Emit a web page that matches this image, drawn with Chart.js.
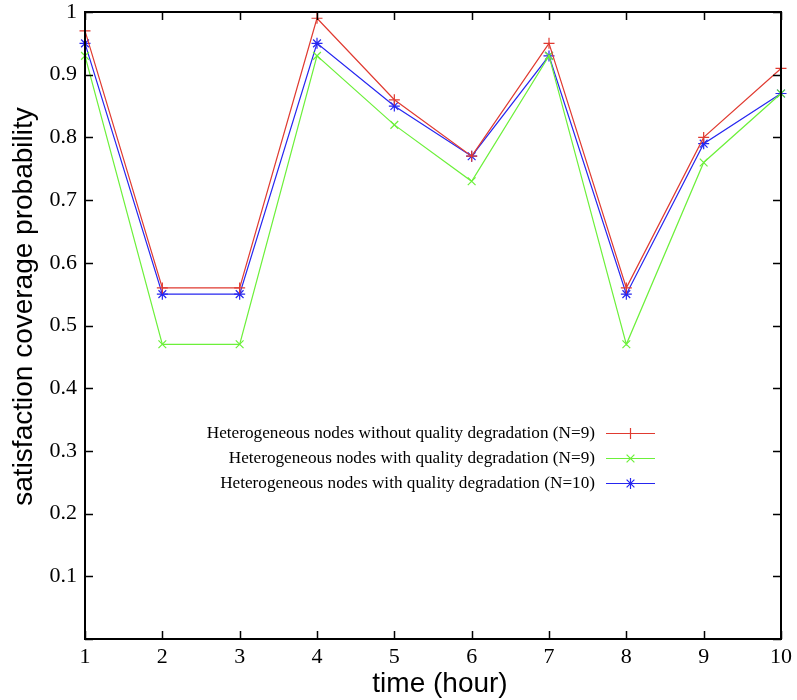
<!DOCTYPE html>
<html><head><meta charset="utf-8">
<script src="https://cdn.jsdelivr.net/npm/chart.js@4.4.1/dist/chart.umd.min.js"></script>
<style>html,body{margin:0;padding:0;background:#fff}#wrap{width:797px;height:700px;position:relative}</style>
</head><body><div id="wrap"><canvas id="c"></canvas></div>
<script>
const hours = [1, 2, 3, 4, 5, 6, 7, 8, 9, 10];
const withoutDegradationN9 = [0.97, 0.56, 0.56, 0.99, 0.86, 0.77, 0.95, 0.56, 0.80, 0.91];
const withDegradationN9 = [0.93, 0.47, 0.47, 0.93, 0.82, 0.73, 0.93, 0.47, 0.76, 0.87];
const withDegradationN10 = [0.95, 0.55, 0.55, 0.95, 0.85, 0.77, 0.93, 0.55, 0.79, 0.87];
const seriesLabels = [
  'Heterogeneous nodes without quality degradation (N=9)',
  'Heterogeneous nodes with quality degradation (N=9)',
  'Heterogeneous nodes with quality degradation (N=10)'
];
const xTitle = 'time (hour)';
const yTitle = 'satisfaction coverage probability';

const colors = ['#e03a30', '#6cf03a', '#2626f0'];
const markers = ['cross', 'crossRot', 'star'];
const seriesValues = [withoutDegradationN9, withDegradationN9, withDegradationN10];

const datasets = seriesValues.map((vals, i) => ({
  label: seriesLabels[i],
  data: hours.map((h, j) => ({x: h, y: vals[j]})),
  borderColor: colors[i],
  backgroundColor: colors[i],
  borderWidth: 1.2,
  pointStyle: markers[i],
  pointRadius: 5.5,
  pointBorderWidth: 1.2,
  pointHoverRadius: 5.5,
  tension: 0,
  clip: false
}));

const titleFont = '28px "Liberation Sans", Arial, sans-serif';

const framePlugin = {
  id: 'frame',
  afterDraw(chart) {
    const ctx = chart.ctx;
    const a = chart.chartArea;
    const xs = chart.scales.x, ys = chart.scales.y;
    ctx.save();
    ctx.strokeStyle = '#000';
    ctx.lineWidth = 1.5;
    const tl = 8;
    ctx.beginPath();
    xs.ticks.forEach(t => {
      const px = Math.round(xs.getPixelForValue(t.value)) + 0.5;
      ctx.moveTo(px, a.bottom); ctx.lineTo(px, a.bottom - tl);
      ctx.moveTo(px, a.top); ctx.lineTo(px, a.top + tl);
    });
    ys.ticks.forEach(t => {
      const py = Math.round(ys.getPixelForValue(t.value)) + 0.5;
      ctx.moveTo(a.left, py); ctx.lineTo(a.left + tl, py);
      ctx.moveTo(a.right, py); ctx.lineTo(a.right - tl, py);
    });
    ctx.stroke();
    ctx.lineWidth = 2;
    ctx.strokeRect(a.left, a.top, a.right - a.left, a.bottom - a.top);
    ctx.restore();

    // axis titles
    ctx.save();
    ctx.fillStyle = '#000';
    ctx.font = titleFont;
    ctx.textAlign = 'center';
    ctx.textBaseline = 'middle';
    ctx.fillText(xTitle, (a.left + a.right) / 2 + 7, 684);
    ctx.translate(24, (a.top + a.bottom) / 2 - 19);
    ctx.rotate(-Math.PI / 2);
    ctx.fillText(yTitle, 0, 0);
    ctx.restore();

    // key (legend) drawn from dataset info
    ctx.save();
    ctx.font = '17.2px "Liberation Serif", "Times New Roman", serif';
    ctx.textAlign = 'right';
    ctx.textBaseline = 'middle';
    chart.data.datasets.forEach((ds, i) => {
      const y = 433 + i * 25;
      ctx.fillStyle = '#000';
      ctx.fillText(ds.label, 595, y);
      ctx.strokeStyle = ds.borderColor;
      ctx.lineWidth = 1.2;
      ctx.beginPath();
      ctx.moveTo(606, y + 0.5); ctx.lineTo(655, y + 0.5);
      ctx.stroke();
      ctx.fillStyle = ds.borderColor;
      Chart.helpers.drawPoint(ctx, {pointStyle: ds.pointStyle, radius: 5.5, borderWidth: 1.2, rotation: 0}, 630.5, y + 0.5);
    });
    ctx.restore();
  }
};

new Chart(document.getElementById('c'), {
  type: 'line',
  data: {datasets},
  options: {
    responsive: true,
    maintainAspectRatio: false,
    animation: false,
    events: [],
    layout: {padding: {top: 12, right: 16, left: 0, bottom: 0}},
    plugins: {legend: {display: false}, tooltip: {enabled: false}, title: {display: false}},
    scales: {
      x: {
        type: 'linear', min: 1, max: 10,
        grid: {display: false},
        border: {display: false},
        ticks: {stepSize: 1, padding: -3, color: '#000',
          font: {family: '"Liberation Serif", "Times New Roman", serif', size: 22},
          callback: v => String(v)},
        title: {display: false, text: xTitle},
        afterFit: s => { s.height = 61; s.paddingLeft = 0; s.paddingRight = 0; }
      },
      y: {
        type: 'linear', min: 0, max: 1,
        grid: {display: false},
        border: {display: false},
        ticks: {stepSize: 0.1, padding: 0, color: '#000',
          font: {family: '"Liberation Serif", "Times New Roman", serif', size: 22},
          callback: v => (Math.abs(v) < 1e-9 ? '' : String(Math.round(v * 10) / 10))},
        title: {display: false, text: yTitle},
        afterFit: s => { s.width = 85; s.paddingTop = 0; s.paddingBottom = 0; }
      }
    }
  },
  plugins: [framePlugin]
});
</script>
</body></html>
